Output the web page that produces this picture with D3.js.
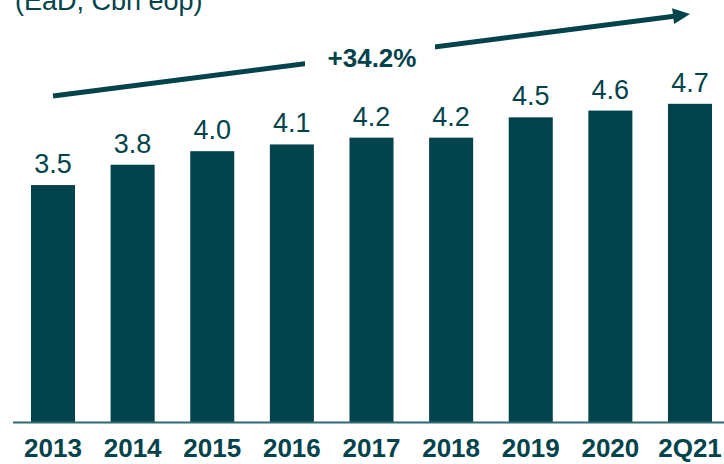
<!DOCTYPE html>
<html lang="en">
<head>
<meta charset="UTF-8"/>
<title>EaD bar chart</title>
<script src="https://d3js.org/d3.v7.min.js"></script>
<style>
    body { margin: 0; background: #fff; }
    text { font-family: "Liberation Sans", Arial, sans-serif; }
</style>
</head>
<body>
<script>
    // Chart size
    var w = 724;
    var h = 464;
    var teal = "#03434b";

    // Data
    var categories = ["2013", "2014", "2015", "2016", "2017", "2018", "2019", "2020", "2Q21"];
    var values = [3.5, 3.8, 4.0, 4.1, 4.2, 4.2, 4.5, 4.6, 4.7];
    var growthLabel = "+34.2%";
    var unitLabel = "(EaD, Cbn eop)";

    // Scales
    var xScale = d3.scaleBand()
        .domain(categories)
        .range([-4.6, 747.6])
        .padding(0.447);

    var yScale = d3.scaleLinear()
        .domain([0, 5])
        .range([422, 83.5]);

    var svg = d3.select("body")
        .append("svg")
        .attr("width", w)
        .attr("height", h);

    // Unit label, partly cut off at the top (as in the source slide)
    svg.append("text")
        .attr("x", 15)
        .attr("y", 10)
        .attr("font-size", 27)
        .attr("fill", teal)
        .text(unitLabel);

    // Bars
    svg.selectAll("rect.bar")
        .data(values)
        .enter()
        .append("rect")
        .attr("class", "bar")
        .attr("x", (d, i) => xScale(categories[i]))
        .attr("y", d => yScale(d))
        .attr("width", xScale.bandwidth())
        .attr("height", d => yScale(0) - yScale(d))
        .attr("fill", teal);

    // Value labels
    svg.selectAll("text.val")
        .data(values)
        .enter()
        .append("text")
        .attr("class", "val")
        .attr("x", (d, i) => xScale(categories[i]) + xScale.bandwidth() / 2)
        .attr("y", d => yScale(d) - 12)
        .attr("text-anchor", "middle")
        .attr("font-size", 27)
        .attr("fill", teal)
        .text(d => d.toFixed(1));

    // x axis
    var xAxis = d3.axisBottom(xScale).tickSize(0).tickPadding(17);
    var gx = svg.append("g")
        .attr("transform", `translate(0,${yScale(0)})`)
        .call(xAxis);
    gx.select(".domain").remove();
    gx.selectAll("text")
        .attr("font-size", 26)
        .attr("font-weight", "bold")
        .attr("fill", teal)
        .attr("dy", "0.71em");

    svg.append("line")
        .attr("x1", 13)
        .attr("x2", w)
        .attr("y1", yScale(0) + 0.5)
        .attr("y2", yScale(0) + 0.5)
        .attr("stroke", "#2f6a70")
        .attr("stroke-width", 2);

    // Growth arrow
    var a0 = [53, 96], a1 = [690, 14];
    var ang = Math.atan2(a1[1] - a0[1], a1[0] - a0[0]);
    var headLen = 17, headHalf = 8;
    var base = [a1[0] - headLen * Math.cos(ang), a1[1] - headLen * Math.sin(ang)];

    svg.append("line")
        .attr("x1", a0[0]).attr("y1", a0[1])
        .attr("x2", base[0] + 1).attr("y2", base[1])
        .attr("stroke", teal)
        .attr("stroke-width", 5);

    svg.append("polygon")
        .attr("points", [
            a1,
            [base[0] - headHalf * Math.sin(ang), base[1] + headHalf * Math.cos(ang)],
            [base[0] + headHalf * Math.sin(ang), base[1] - headHalf * Math.cos(ang)]
        ].map(p => p.join(",")).join(" "))
        .attr("fill", teal);

    // gap behind the growth label
    svg.append("rect")
        .attr("x", 305)
        .attr("y", 40)
        .attr("width", 130)
        .attr("height", 50)
        .attr("fill", "#fff");

    svg.append("text")
        .attr("x", 372)
        .attr("y", 67)
        .attr("text-anchor", "middle")
        .attr("font-size", 26)
        .attr("font-weight", "bold")
        .attr("fill", teal)
        .text(growthLabel);
</script>
</body>
</html>
